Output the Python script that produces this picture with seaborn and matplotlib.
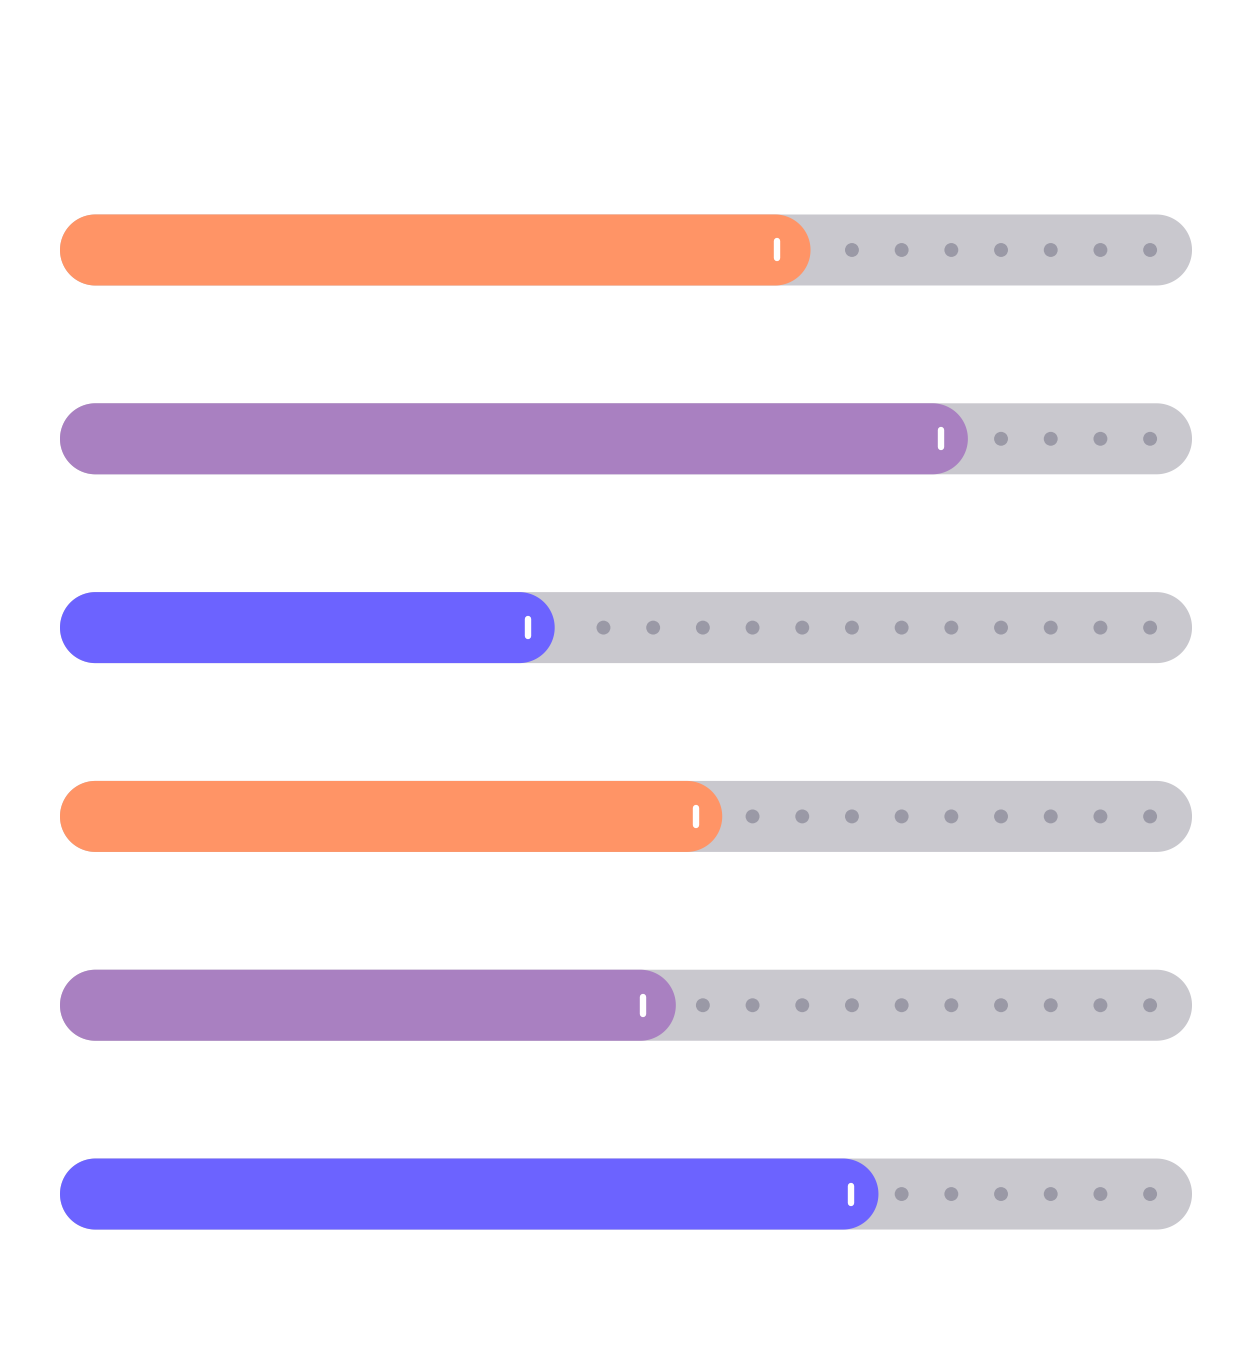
import numpy as np
import pandas as pd
import seaborn as sns
import matplotlib.pyplot as plt
from matplotlib.patches import Polygon, Rectangle

# progress values (percent of the track)
rows = ["A", "B", "C", "D", "E", "F"]
values = [66.3, 80.2, 43.7, 58.5, 54.4, 72.3]
handles = [63.3, 77.8, 41.3, 56.2, 51.5, 69.9]
colors = ["#ff9466", "#a980c1", "#6c63ff", "#ff9466", "#a980c1", "#6c63ff"]

track_color = "#c9c8ce"
dot_color = "#9a99a6"
bar_h = 0.376

df = pd.DataFrame({"row": rows, "value": values, "full": [100] * len(rows)})

sns.set_theme(style="white")
fig = plt.figure(figsize=(12.52, 13.72), dpi=100)
ax = fig.add_axes([60 / 1252, 0.0609, 1132 / 1252, 0.8257])

sns.barplot(data=df, x="full", y="row", color=track_color, width=bar_h,
            orient="h", saturation=1, ax=ax)
sns.barplot(data=df, x="value", y="row", hue="row", palette=colors,
            width=bar_h, orient="h", saturation=1, legend=False, ax=ax)

ax.set_xlim(0, 100)
ax.set_ylim(len(rows) - 0.5, -0.5)
ax.axis("off")

# pixel scale of the data units, used to make round caps circular
p0 = ax.transData.transform((0, 0))
p1 = ax.transData.transform((1, 1))
px_x = abs(p1[0] - p0[0])
px_y = abs(p1[1] - p0[1])

# turn seaborn's rectangles into pill shaped polygons
t = np.linspace(-np.pi / 2, np.pi / 2, 80)
bars = [p for p in ax.patches if isinstance(p, Rectangle)]
for i, p in enumerate(bars):
    x, y, w, h = p.get_x(), p.get_y(), p.get_width(), p.get_height()
    fc = p.get_facecolor()
    p.remove()
    r = (h * px_y / 2) / px_x
    cy = y + h / 2
    right = np.column_stack([x + w - r + r * np.cos(t), cy + h / 2 * np.sin(t)])
    left = np.column_stack([x + r - r * np.cos(t), cy - h / 2 * np.sin(t)])
    ax.add_patch(Polygon(np.vstack([right, left]), closed=True, facecolor=fc,
                         edgecolor="none", linewidth=0,
                         zorder=1 if i < len(rows) else 3))

# grey dots on the empty part of each track
dot_grid = 96.3 - 4.39 * np.arange(22)
dot_x, dot_y = [], []
for i, v in enumerate(values):
    for d in dot_grid:
        if d > v + 1.6:
            dot_x.append(d)
            dot_y.append(rows[i])
sns.scatterplot(x=dot_x, y=dot_y, s=100, color=dot_color, edgecolor="none",
                zorder=2, ax=ax)

# white handle mark near the end of each filled bar
for i, hv in enumerate(handles):
    ax.plot([hv, hv], [i - 0.045, i + 0.045], color="white",
            lw=4.6, solid_capstyle="round", zorder=4)

ax.set_xlim(0, 100)
ax.set_ylim(len(rows) - 0.5, -0.5)
fig.savefig("out.png", dpi=100, facecolor="white")
